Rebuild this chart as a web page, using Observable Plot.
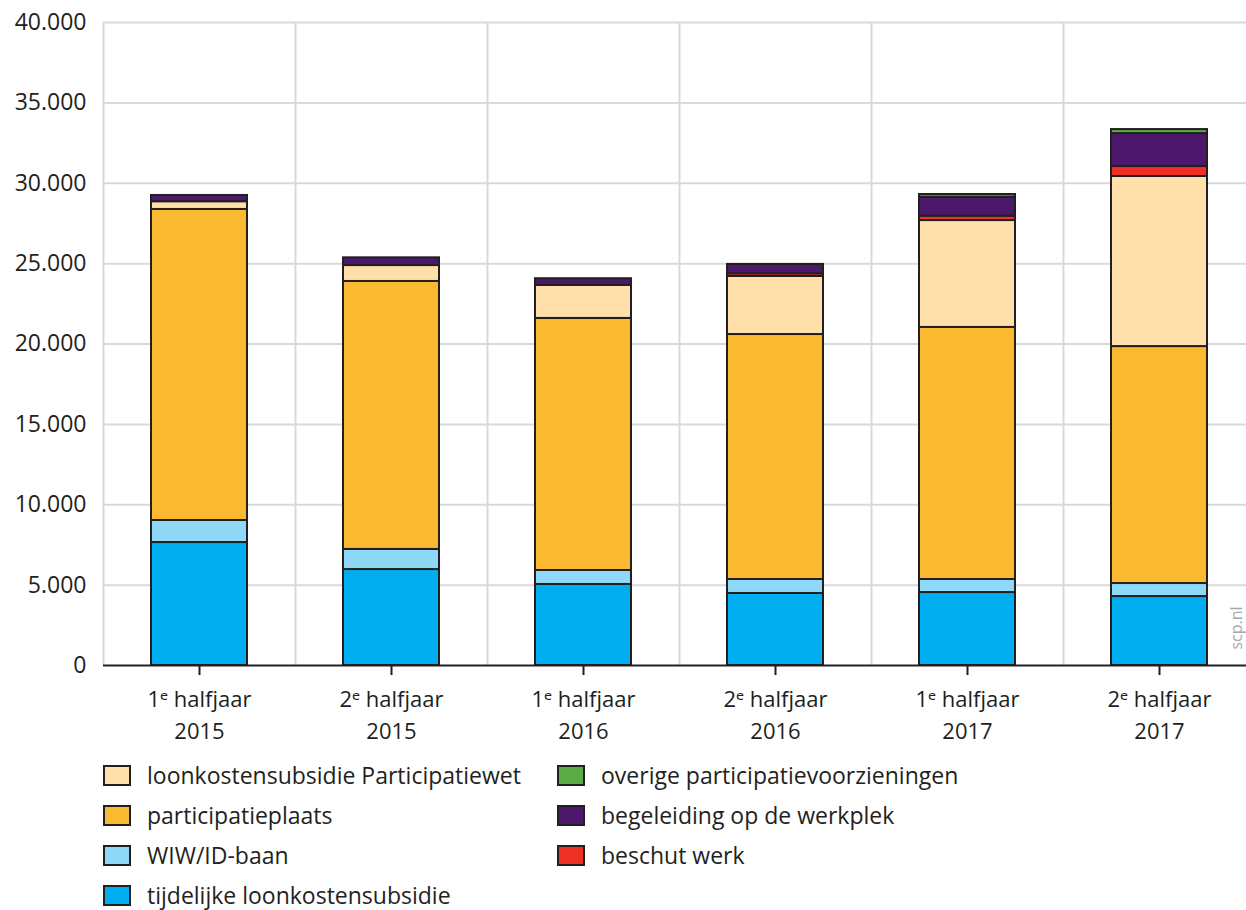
<!DOCTYPE html>
<html><head><meta charset="utf-8">
<script src="https://cdn.jsdelivr.net/npm/d3@7"></script>
<script src="https://cdn.jsdelivr.net/npm/@observablehq/plot@0.6"></script>
<style>
body{margin:0;background:#fff;font-family:"Open Sans","Noto Sans",sans-serif;color:#231f20}
#wrap{position:relative;width:1246px;height:910px;overflow:hidden}
#legend{position:absolute;left:103px;top:755px;display:grid;grid-template-columns:454px 500px;grid-auto-flow:column;grid-template-rows:repeat(4,40px);font-size:23px;line-height:1}
.item{display:flex;align-items:center;height:40px}
.sw{width:24px;height:17px;border:2px solid #231f20;margin-right:16px;flex:none}
#src{position:absolute;left:1236px;top:628px;transform:translate(-50%,-50%) rotate(-90deg);color:#a7a9ac;font-size:16px;white-space:nowrap;line-height:1}
</style></head><body><div id="wrap"><div id="chart"></div><div id="legend"></div><div id="src">scp.nl</div></div>
<script>
const periods = ["H1 2015","H2 2015","H1 2016","H2 2016","H1 2017","H2 2017"];
const periodLabels = ["1ᵉ halfjaar\n2015","2ᵉ halfjaar\n2015","1ᵉ halfjaar\n2016","2ᵉ halfjaar\n2016","1ᵉ halfjaar\n2017","2ᵉ halfjaar\n2017"];
// stack order bottom-up
const seriesNames = ["tijdelijke loonkostensubsidie","WIW/ID-baan","participatieplaats","loonkostensubsidie Participatiewet","beschut werk","begeleiding op de werkplek","overige participatievoorzieningen"];
const seriesColors = ["#00adee","#8ed8f8","#fbb932","#ffdfaa","#ee3124","#4b186b","#5aab45"];
const tijdelijke = [7650, 5970, 5040, 4480, 4540, 4290];
const wiw = [1370, 1250, 870, 870, 810, 810];
const participatieplaats = [19350, 16670, 15680, 15240, 15680, 14740];
const loonkostenPW = [480, 990, 2050, 3610, 6650, 10580];
const beschut = [0, 0, 0, 170, 270, 620];
const begeleiding = [390, 480, 420, 580, 1180, 2050];
const overige = [0, 0, 0, 0, 170, 250];
const yTicks = [0,5000,10000,15000,20000,25000,30000,35000,40000];
const legendOrder = ["loonkostensubsidie Participatiewet","participatieplaats","WIW/ID-baan","tijdelijke loonkostensubsidie","overige participatievoorzieningen","begeleiding op de werkplek","beschut werk"];

const seriesValues = [tijdelijke, wiw, participatieplaats, loonkostenPW, beschut, begeleiding, overige];
const data = [];
seriesNames.forEach((s, i) => periods.forEach((p, j) => {
  if (seriesValues[i][j] > 0) data.push({period: p, series: s, value: seriesValues[i][j]});
}));
const fmt = d => d3.format(",")(d).replace(/,/g, ".");
const labelOf = Object.fromEntries(periods.map((p, i) => [p, periodLabels[i]]));

const chart = Plot.plot({
  width: 1246, height: 750,
  marginTop: 22, marginBottom: 85, marginLeft: 103, marginRight: 0,
  style: {fontSize: "22px", fontFamily: "'Open Sans', 'Noto Sans', sans-serif", color: "#231f20", background: "#fff"},
  x: {type: "band", domain: periods, range: [103, 1255], paddingInner: 0.5, paddingOuter: 0.25},
  y: {domain: [0, 40000]},
  color: {domain: seriesNames, range: seriesColors},
  marks: [
    Plot.ruleY(yTicks.slice(1), {stroke: "#d9d9d9", strokeWidth: 2}),
    Plot.ruleX(periods, {x: d => d, dx: -96, stroke: "#d9d9d9", strokeWidth: 2}),
    Plot.barY(data, Plot.stackY({order: seriesNames}, {x: "period", y: "value", fill: "series", stroke: "#231f20", strokeWidth: 2})),
    Plot.ruleY([0], {stroke: "#231f20", strokeWidth: 2}),
    Plot.axisY({ticks: yTicks, tickSize: 0, tickPadding: 17, tickFormat: fmt, label: null, fontSize: 23}),
    Plot.axisX({tickSize: 10, tickPadding: 9, strokeWidth: 2, tickFormat: d => labelOf[d], lineHeight: 1.45, label: null, fontSize: 22})
  ]
});
document.getElementById("chart").appendChild(chart);

const leg = document.getElementById("legend");
legendOrder.forEach(name => {
  const it = document.createElement("div"); it.className = "item";
  const sw = document.createElement("span"); sw.className = "sw";
  sw.style.background = seriesColors[seriesNames.indexOf(name)];
  const tx = document.createElement("span"); tx.textContent = name;
  it.appendChild(sw); it.appendChild(tx); leg.appendChild(it);
});
</script></body></html>
